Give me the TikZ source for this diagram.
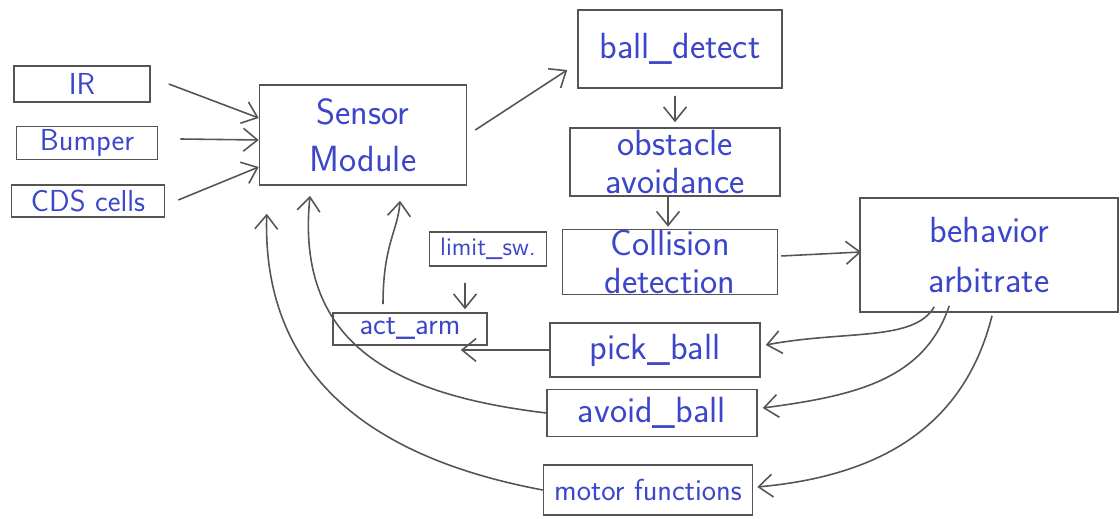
\documentclass[tikz,border=0pt]{standalone}
\usetikzlibrary{arrows.meta}
\definecolor{ink}{RGB}{60,70,200}
\definecolor{pencil}{RGB}{85,85,85}
\begin{document}
\begin{tikzpicture}[x=0.02cm,y=-0.02cm,
    box/.style={draw=pencil, line width=0.9pt, text=ink, font=\LARGE\sffamily, align=center, inner sep=0pt},
    big/.style={font=\huge\sffamily},
    small/.style={font=\Large\sffamily},
    arr/.style={draw=pencil, line width=0.9pt, -{Straight Barb[length=8pt,width=13pt]}}]
                \useasboundingbox (0,0) rectangle (1120,519);
                \node [box, minimum width=2.72cm, minimum height=0.72cm] (1) at (82,84) {IR};
                \node [box, minimum width=2.82cm, minimum height=0.66cm] (2) at (87,143) {Bumper};
                \node [box, minimum width=3.06cm, minimum height=0.64cm] (3) at (88,201) {CDS cells};
                \node [box, big, minimum width=4.14cm, minimum height=2cm] (4) at (363,135) {Sensor\\[2pt]Module};
                \node [box, big, minimum width=4.08cm, minimum height=1.56cm] (5) at (680,49) {ball\_detect};
                \node [box, big, minimum width=4.2cm, minimum height=1.36cm] (6) at (675,162) {obstacle\\[-3pt]avoidance};
                \node [box, big, minimum width=4.3cm, minimum height=1.3cm] (7) at (670,262) {Collision\\[-3pt]detection};
                \node [box, small, minimum width=2.34cm, minimum height=0.68cm] (8) at (488,249) {limit\_sw.};
                \node [box, big, minimum width=5.16cm, minimum height=2.28cm] (9) at (989,255) {behavior\\[4pt]arbitrate};
                \node [box, minimum width=3.08cm, minimum height=0.64cm] (10) at (410,329) {act\_arm};
                \node [box, big, minimum width=4.2cm, minimum height=1.08cm] (11) at (655,350) {pick\_ball};
                \node [box, big, minimum width=4.2cm, minimum height=0.94cm] (12) at (652,413) {avoid\_ball};
                \node [box, minimum width=4.18cm, minimum height=1cm] (13) at (648,490) {motor functions};
                % inputs
                \draw [arr] ([xshift=0.36cm]1.east) to ([yshift=0.34cm]4.west);
                \draw [arr] ([xshift=0.44cm,yshift=0.08cm]2.east) to ([yshift=-0.1cm]4.west);
                \draw [arr] ([xshift=0.26cm,yshift=0.02cm]3.east) to ([yshift=-0.64cm]4.west);
                % behaviour chain
                \draw [arr] ([xshift=0.16cm,yshift=0.1cm]4.east) to ([xshift=-0.2cm,yshift=-0.42cm]5.west);
                \draw [arr] ([xshift=-0.1cm,yshift=-0.14cm]5.south) to ([yshift=0.1cm]6.north);
                \draw [arr] ([xshift=-0.14cm]6.south) to ([xshift=-0.04cm,yshift=0.04cm]7.north);
                \draw [arr] ([xshift=0.06cm,yshift=0.12cm]7.east) to ([xshift=0.04cm,yshift=0.06cm]9.west);
                % arbitration outputs
                \draw [arr] ([xshift=1.5cm,yshift=0.12cm]9.south west) .. controls +(-20,35) and +(80,-15) .. ([xshift=0.1cm,yshift=0.1cm]11.east);
                \draw [arr] ([xshift=1.8cm,yshift=0.14cm]9.south west) .. controls +(-25,75) and +(90,-12) .. ([xshift=0.1cm,yshift=0.1cm]12.east);
                \draw [arr] ([xshift=0.06cm,yshift=-0.06cm]9.south) .. controls +(-30,120) and +(110,-10) .. ([xshift=0.08cm,yshift=0.06cm]13.east);
                % arm
                \draw [arr] (11.west) to ([xshift=-0.54cm,yshift=-0.42cm]10.east);
                \draw [arr] ([xshift=-0.46cm,yshift=-0.32cm]8.south) to ([xshift=1.1cm,yshift=0.06cm]10.north);
                % feedback to sensors
                \draw [arr] ([xshift=-0.54cm,yshift=0.16cm]10.north) .. controls +(0,-60) and +(-2,30) .. ([xshift=0.74cm,yshift=-0.3cm]4.south);
                \draw [arr] (12.west) .. controls +(-150,-18) and +(-15,150) .. ([xshift=-1.06cm,yshift=-0.2cm]4.south);
                \draw [arr] (13.west) .. controls +(-160,-30) and +(-5,170) .. ([xshift=0.16cm,yshift=-0.56cm]4.south west);
\end{tikzpicture}
\end{document}
